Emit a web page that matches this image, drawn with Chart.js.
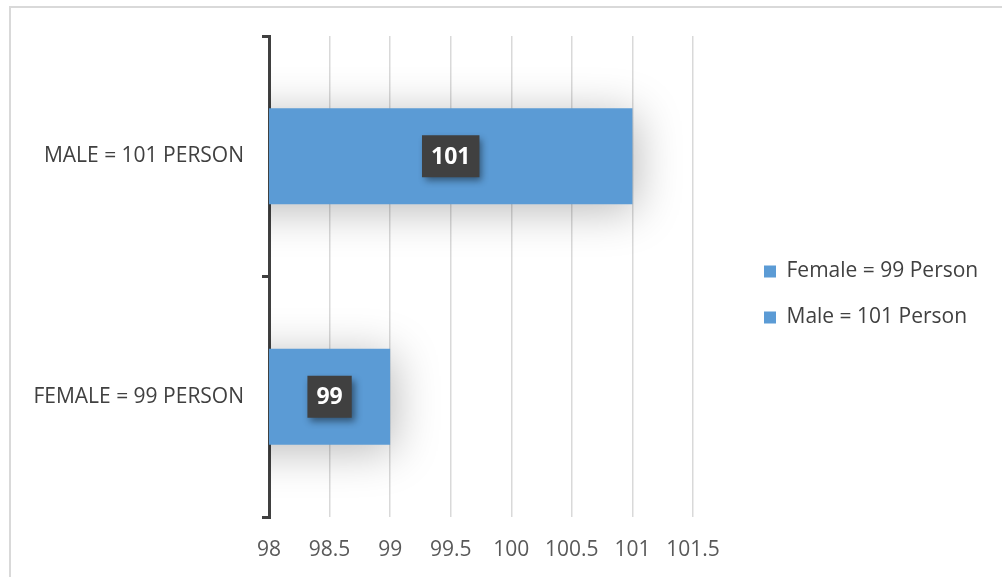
<!DOCTYPE html>
<html>
<head>
<meta charset="utf-8">
<script src="https://cdn.jsdelivr.net/npm/chart.js@4"></script>
<style>
  html, body { margin: 0; padding: 0; background: #fff; }
  #wrap { position: relative; width: 1002px; height: 577px; overflow: hidden; }
  #frame { position: absolute; left: 9px; top: 6px; width: 1100px; height: 700px;
           border-top: 2px solid #d9d9d9; border-left: 2px solid #d9d9d9; box-sizing: border-box; }
  canvas { position: absolute; left: 0; top: 0; }
</style>
</head>
<body>
<div id="wrap">
  <div id="frame"></div>
  <canvas id="c" width="1002" height="577"></canvas>
</div>
<script>
const categories = ["MALE = 101 PERSON", "FEMALE = 99 PERSON"];
const maleValues = [101, null];
const femaleValues = [null, 99];
const seriesNames = ["Female = 99 Person", "Male = 101 Person"];
const xMin = 98, xMax = 101.5, xStep = 0.5;

const FONT = "'Open Sans', 'Liberation Sans', sans-serif";
const BAR = "#5B9BD5";

const barShadow = {
  id: 'barShadow',
  beforeDatasetDraw(chart) {
    const ctx = chart.ctx;
    ctx.save();
    ctx.shadowColor = 'rgba(0,0,0,0.28)';
    ctx.shadowBlur = 45;
    ctx.shadowOffsetX = 4;
    ctx.shadowOffsetY = 6;
  },
  afterDatasetDraw(chart) { chart.ctx.restore(); }
};

const legendPlace = {
  id: 'legendPlace',
  beforeLayout(chart) {
    const lg = chart.legend;
    if (lg && !lg._patched) {
      const orig = lg.fit;
      lg.fit = function () { orig.call(this); this.width = 309; };
      lg._patched = true;
    }
  },
  afterLayout(chart) {
    const lg = chart.legend;
    if (!lg) return;
    lg.left += 46; lg.right += 46;
    lg.top -= 12; lg.bottom -= 12;
  }
};

const valueBoxes = {
  id: 'valueBoxes',
  afterDatasetsDraw(chart) {
    const ctx = chart.ctx;
    const xs = chart.scales.x;
    chart.data.datasets.forEach((ds, di) => {
      const meta = chart.getDatasetMeta(di);
      meta.data.forEach((el, i) => {
        const v = ds.data[i];
        if (v === null || v === undefined) return;
        const cx = xs.getPixelForValue((xMin + v) / 2), cy = el.y;
        ctx.save();
        ctx.font = "bold 23px " + FONT;
        const txt = String(v);
        const w = ctx.measureText(txt).width + 18, h = 42;
        ctx.shadowColor = 'rgba(0,0,0,0.45)';
        ctx.shadowBlur = 7;
        ctx.shadowOffsetX = 3;
        ctx.shadowOffsetY = 4;
        ctx.fillStyle = '#404040';
        ctx.fillRect(cx - w / 2, cy - h / 2, w, h);
        ctx.shadowColor = 'rgba(0,0,0,0)';
        ctx.shadowBlur = 0;
        ctx.shadowOffsetX = 0;
        ctx.shadowOffsetY = 0;
        ctx.fillStyle = '#ffffff';
        ctx.textAlign = 'center';
        ctx.textBaseline = 'middle';
        ctx.fillText(txt, cx, cy + 1);
        ctx.restore();
      });
    });
  }
};

new Chart(document.getElementById('c'), {
  type: 'bar',
  data: {
    labels: categories,
    datasets: [
      { label: seriesNames[0], data: femaleValues, backgroundColor: BAR, barPercentage: 0.4, categoryPercentage: 1 },
      { label: seriesNames[1], data: maleValues, backgroundColor: BAR, barPercentage: 0.4, categoryPercentage: 1 }
    ]
  },
  options: {
    indexAxis: 'y',
    responsive: false,
    animation: false,
    layout: { padding: { left: 9, top: 36, right: 0, bottom: 0 } },
    scales: {
      x: {
        min: xMin, max: xMax,
        ticks: { stepSize: xStep, color: '#595959', font: { family: FONT, size: 21 }, padding: 20,
                 maxRotation: 0, minRotation: 0, autoSkip: false,
                 callback: (v) => String(Number(v)) },
        grid: { color: '#d9d9d9', lineWidth: 1.5, drawTicks: false },
        border: { display: false },
        afterFit(s) { s.height = 60; }
      },
      y: {
        stacked: true,
        ticks: { color: '#404040', font: { family: FONT, size: 21 }, padding: 18 },
        grid: { drawOnChartArea: false, drawTicks: true, tickLength: 7, color: '#404040', lineWidth: 3, offset: true },
        border: { display: true, color: '#404040', width: 3 },
        afterFit(s) { s.width = 260; }
      }
    },
    plugins: {
      legend: {
        position: 'right',
        labels: { color: '#404040', font: { family: FONT, size: 21 }, boxWidth: 12, boxHeight: 12, padding: 25 }
      },
      tooltip: { enabled: false }
    }
  },
  plugins: [barShadow, legendPlace, valueBoxes]
});
</script>
</body>
</html>
